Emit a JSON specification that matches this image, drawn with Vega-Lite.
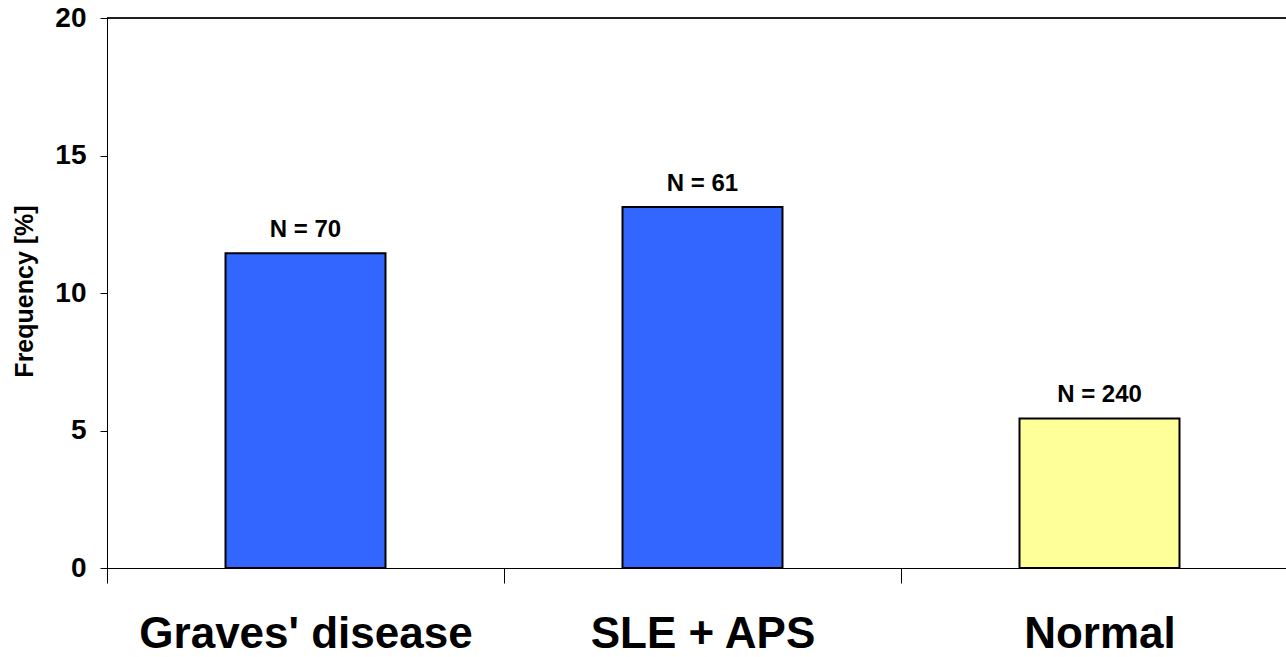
{
  "$schema": "https://vega.github.io/schema/vega-lite/v6.json",
  "width": 1179,
  "height": 550,
  "autosize": {"type": "none"},
  "padding": {"left": 107, "top": 18, "right": 0, "bottom": 89},
  "background": "white",
  "config": {
    "view": {"stroke": null},
    "font": "Liberation Sans"
  },
  "data": {
    "values": [
      {"group": "Graves' disease", "freq": 11.45, "label": "N = 70", "kind": "patient"},
      {"group": "SLE + APS", "freq": 13.13, "label": "N = 61", "kind": "patient"},
      {"group": "Normal", "freq": 5.44, "label": "N = 240", "kind": "control"}
    ]
  },
  "layer": [
    {
      "mark": {"type": "bar", "stroke": "black", "strokeWidth": 2, "width": {"band": 0.403}},
      "encoding": {
        "x": {
          "field": "group",
          "type": "nominal",
          "sort": null,
          "scale": {"range": [0, 1191], "paddingInner": 0, "paddingOuter": 0},
          "axis": {
            "title": null,
            "labelAngle": 0,
            "tickBand": "extent",
            "tickSize": 15,
            "tickColor": "black",
            "tickWidth": 1,
            "domainColor": "black",
            "domainWidth": 1,
            "labelFontSize": 44,
            "labelFontWeight": "bold",
            "labelColor": "black",
            "labelBaseline": "alphabetic",
            "labelPadding": 64,
            "labelLimit": 0,
            "labelFont": "Liberation Sans"
          }
        },
        "y": {
          "field": "freq",
          "type": "quantitative",
          "scale": {"domain": [0, 20], "nice": false},
          "axis": {
            "values": [0, 5, 10, 15, 20],
            "grid": false,
            "tickSize": 7,
            "tickColor": "black",
            "domainColor": "black",
            "labelFontSize": 28,
            "labelFontWeight": "bold",
            "labelColor": "black",
            "labelPadding": 14,
            "labelFont": "Liberation Sans",
            "title": "Frequency [%]",
            "titleFontSize": 25,
            "titleFontWeight": "bold",
            "titleColor": "black",
            "titleFont": "Liberation Sans",
            "titleAngle": -90,
            "titleX": -83,
            "titleY": 273,
            "titleAlign": "center",
            "titleBaseline": "middle"
          }
        },
        "color": {
          "field": "kind",
          "type": "nominal",
          "scale": {"domain": ["patient", "control"], "range": ["#3366FF", "#FFFF99"]},
          "legend": null
        }
      }
    },
    {
      "mark": {"type": "text", "fontSize": 24, "fontWeight": "bold", "baseline": "alphabetic", "dy": -16, "color": "black", "font": "Liberation Sans"},
      "encoding": {
        "x": {"field": "group", "type": "nominal", "sort": null},
        "y": {"field": "freq", "type": "quantitative"},
        "text": {"field": "label"}
      }
    },
    {
      "mark": {"type": "rule", "color": "black", "strokeWidth": 1},
      "encoding": {"y": {"datum": 20}}
    }
  ]
}
